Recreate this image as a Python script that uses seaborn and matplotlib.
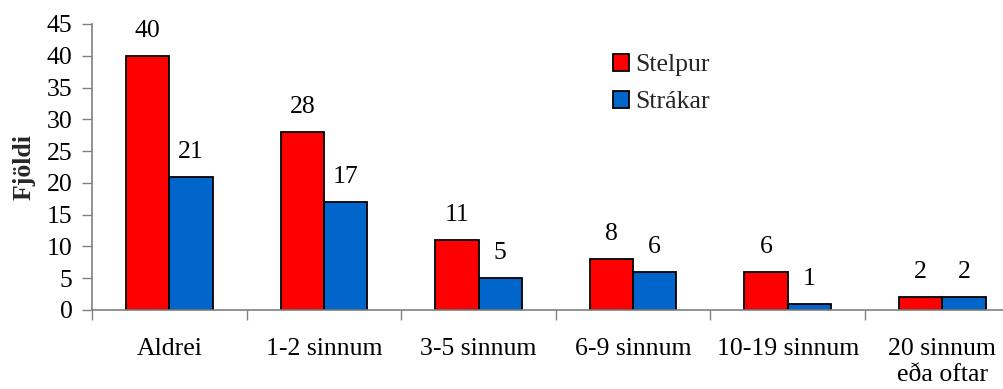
import matplotlib
matplotlib.use("Agg")
import matplotlib.pyplot as plt
import seaborn as sns
import pandas as pd
import numpy as np

categories = ["Aldrei", "1-2 sinnum", "3-5 sinnum", "6-9 sinnum", "10-19 sinnum", "20 sinnum\neða oftar"]
stelpur = [40, 28, 11, 8, 6, 2]
strakar = [21, 17, 5, 6, 1, 2]
series_names = ["Stelpur", "Strákar"]
colors = ["#FF0000", "#0066CC"]

df = pd.DataFrame({
    "cat": categories * 2,
    "val": stelpur + strakar,
    "grp": [series_names[0]] * len(categories) + [series_names[1]] * len(categories),
})

sns.set_theme(style="white")
plt.rcParams["font.family"] = ["Liberation Serif", "DejaVu Serif"]
FS = 18.5

fig = plt.figure(figsize=(10.04, 3.89), dpi=100)
ax = fig.add_axes([92/1004, 1 - 310/389, 1 - 92/1004, (310 - 24)/389])

sns.barplot(data=df, x="cat", y="val", hue="grp", palette=colors, width=0.56, gap=0,
            edgecolor="black", linewidth=1.3, saturation=1, ax=ax, legend=True)

for c in ax.containers:
    ax.bar_label(c, padding=10, fontsize=FS, color="black")

ax.set_ylim(0, 45)
ax.set_yticks(range(0, 46, 5))
ax.set_xlim(-0.5, -0.5 + 912/154.6)
ax.set_xlabel("")
ax.set_ylabel("Fjöldi", fontsize=FS, fontweight="bold")
ax.yaxis.set_label_coords(-56/912, 0.5)

for s in ["top", "right"]:
    ax.spines[s].set_visible(False)
for s in ["left", "bottom"]:
    ax.spines[s].set_color("#808080")
    ax.spines[s].set_linewidth(1.2)

ax.tick_params(axis="y", which="major", left=True, length=7, width=1.0, color="#808080",
               labelsize=FS, pad=7, labelcolor="black")
ax.tick_params(axis="x", which="major", bottom=False, length=0, labelsize=FS, pad=20, labelcolor="black")
ax.set_xticks(np.arange(-0.5, 5.0, 1.0), minor=True)
ax.tick_params(axis="x", which="minor", bottom=True, length=7, width=1.0, color="#808080")
for t in ax.get_xticklabels():
    t.set_linespacing(1.25)

leg = ax.legend(loc="upper left", bbox_to_anchor=(0.571, 0.895), frameon=False, fontsize=FS,
                handlelength=0.62, handleheight=0.62, handletextpad=0.25, labelspacing=0.57,
                borderpad=0, borderaxespad=0)
for h in leg.legend_handles:
    h.set_edgecolor("black")
    h.set_linewidth(1.3)

fig.savefig("out.png", dpi=100)
